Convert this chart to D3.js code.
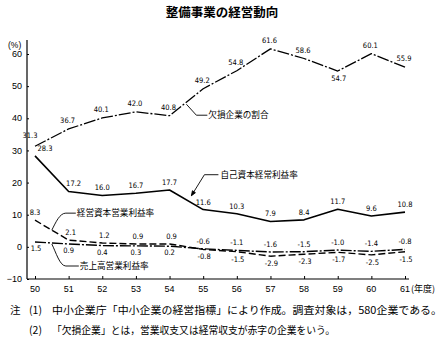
<!DOCTYPE html>
<html><head><meta charset="utf-8">
<script src="https://cdn.jsdelivr.net/npm/d3@7"></script>
<style>
body{margin:0;background:#fff;}
svg{display:block;}
</style></head><body>
<svg id="c" width="448" height="355"></svg>
<script>
const years = ["50","51","52","53","54","55","56","57","58","59","60","61"];
const lossShare = [31.3,36.7,40.1,42.0,40.8,49.2,54.8,61.6,58.6,54.7,60.1,55.9];
const equityReturn = [28.3,17.2,16.0,16.7,17.7,11.6,10.3,7.9,8.4,11.7,9.6,10.8];
const capitalReturn = [8.3,2.1,1.2,0.9,0.9,-0.8,-1.5,-2.9,-2.3,-1.7,-2.5,-1.5];
const salesReturn = [1.5,0.9,0.4,0.3,0.2,-0.6,-1.1,-1.6,-1.5,-1.0,-1.4,-0.8];
const yTicks = [-10,0,10,20,30,40,50,60];
const seriesNames = ["欠損企業の割合","自己資本経常利益率","経営資本営業利益率","売上高営業利益率"];
const title = "整備事業の経営動向";
const notes = ["中小企業庁「中小企業の経営指標」により作成。調査対象は，580企業である。",
               "「欠損企業」とは，営業収支又は経常収支が赤字の企業をいう。"];

const svg = d3.select("#c");
const x = d3.scalePoint().domain(years).range([35,405]).padding(0);
const y = d3.scaleLinear().domain([-10,60]).range([279,54]);
const numFont = "'Liberation Sans Narrow','DejaVu Sans Condensed','Liberation Sans',sans-serif";
const jpFont = "'Noto Sans CJK JP',sans-serif";

svg.append("text").attr("x",222).attr("y",17).attr("text-anchor","middle")
  .attr("font-family",jpFont).attr("font-weight","bold").attr("font-size",12.5).text(title);

// y axis
const ya = svg.append("g").attr("transform","translate(27,0)")
  .call(d3.axisRight(y).tickValues(yTicks).tickSize(2).tickFormat(""));
ya.select(".domain").attr("d","M0,40V279").attr("stroke","#000").attr("stroke-width",1.2);
ya.selectAll(".tick line").attr("stroke","#000");
svg.append("g").selectAll("text").data(yTicks).join("text")
  .attr("x",22).attr("y",d=>y(d)+3.2).attr("text-anchor","end")
  .attr("font-family","'Liberation Sans',sans-serif").attr("font-size",9)
  .text(d=>d<0?"−"+Math.abs(d):d);
svg.append("text").attr("x",8).attr("y",48).attr("font-family","'Liberation Sans',sans-serif")
  .attr("font-size",8.5).text("(%)");

// x axis
const xa = svg.append("g").attr("transform",`translate(0,${y(-10)})`)
  .call(d3.axisTop(x).tickSize(3).tickFormat(""));
xa.select(".domain").attr("d","M27,0H409").attr("stroke","#000").attr("stroke-width",1.2);
xa.selectAll(".tick line").attr("stroke","#000");
svg.append("g").selectAll("text").data(years).join("text")
  .attr("x",d=>x(d)).attr("y",y(-10)+13).attr("text-anchor","middle")
  .attr("font-family","'Liberation Sans',sans-serif").attr("font-size",9).text(d=>d);
svg.append("text").attr("x",411).attr("y",y(-10)+13).attr("font-family",jpFont)
  .attr("font-size",9).text("(年度)");

const line = d3.line().x((d,i)=>x(years[i])).y(d=>y(d));
function drawSeries(vals, dash, w){
  svg.append("path").datum(vals).attr("d",line).attr("fill","none")
    .attr("stroke","#000").attr("stroke-width",w).attr("stroke-dasharray",dash)
    .attr("stroke-linejoin","round");
}
drawSeries(lossShare,"12,2,2,2",1.3);
drawSeries(equityReturn,null,1.6);
drawSeries(capitalReturn,"7,3",1.4);
drawSeries(salesReturn,"11,2,2,2",1.4);

function labels(vals, fn){
  svg.append("g").selectAll("text").data(vals).join("text")
    .attr("font-family",numFont).attr("font-size",7.5).attr("text-anchor","middle")
    .each(function(d,i){
      const o = fn(d,i);
      d3.select(this).attr("x",x(years[i])+o[0]).attr("y",y(d)+o[1]);
    })
    .text(d=>d<0?"-"+Math.abs(d).toFixed(1):d.toFixed(1));
}
labels(lossShare,(d,i)=> i===0?[-5,-8]: i===9?[1,10]: [-1,-6]);
labels(equityReturn,(d,i)=> i===0?[10,-5]: i===1?[5,-6]: [0,-5]);
labels(capitalReturn,(d,i)=> i<5?[i===0?0:2,-5]: [1,10]);
labels(salesReturn,(d,i)=> i===0?[1,9]: i<5?[0,9]: [0,-5]);

// annotations
function seg(i, t){ return [x(years[i])+(x(years[i+1])-x(years[i]))*t, 0]; }
function interp(vals,i,t){ return y(vals[i]+(vals[i+1]-vals[i])*t); }
const ann = svg.append("g").attr("fill","none").attr("stroke","#000").attr("stroke-width",0.9);
const jt = svg.append("g").attr("font-family",jpFont).attr("font-size",8.6);

// 欠損企業の割合
{ const sx = seg(4,0.5)[0], sy = interp(lossShare,4,0.5)+2;
  ann.append("path").attr("d",`M${sx},${sy} L${sx+10},${sy+11} H${sx+21}`);
  jt.append("text").attr("x",sx+22).attr("y",sy+14).text(seriesNames[0]); }
// 自己資本経常利益率
{ const sx = seg(4,0.65)[0], sy = interp(equityReturn,4,0.65)-7;
  ann.append("path").attr("d",`M${sx},${sy} L${sx+13},${sy-21} H${sx+27}`);
  ann.append("path").attr("d",`M${sx},${sy} l1,-5 l3,2 z`).attr("fill","#000");
  jt.append("text").attr("x",sx+29).attr("y",sy-18).text(seriesNames[1]); }
// 経営資本営業利益率
{ const sx = seg(0,0.5)[0], sy = interp(capitalReturn,0,0.5);
  ann.append("path").attr("d",`M${sx},${sy} C${sx+4},${sy-8} ${sx+8},${sy-17} ${sx+14},${sy-17} H${sx+24}`);
  jt.append("text").attr("x",sx+25).attr("y",sy-14).text(seriesNames[2]); }
// 売上高営業利益率
{ const sx = seg(0,0.5)[0], sy = interp(salesReturn,0,0.5)+1;
  ann.append("path").attr("d",`M${sx},${sy} C${sx+4},${sy+8} ${sx+8},${sy+22} ${sx+14},${sy+22} H${sx+27}`);
  jt.append("text").attr("x",sx+28).attr("y",sy+25).text(seriesNames[3]); }

// notes
const nt = svg.append("g").attr("font-family",jpFont).attr("font-size",10.5);
nt.append("text").attr("x",10).attr("y",314).text("注");
nt.append("text").attr("x",29).attr("y",314).text("(1)");
nt.append("text").attr("x",52).attr("y",314).attr("textLength",390).attr("lengthAdjust","spacingAndGlyphs").text(notes[0]);
nt.append("text").attr("x",29).attr("y",334).text("(2)");
nt.append("text").attr("x",52).attr("y",334).attr("textLength",283).attr("lengthAdjust","spacingAndGlyphs").text(notes[1]);
</script>
</body></html>
